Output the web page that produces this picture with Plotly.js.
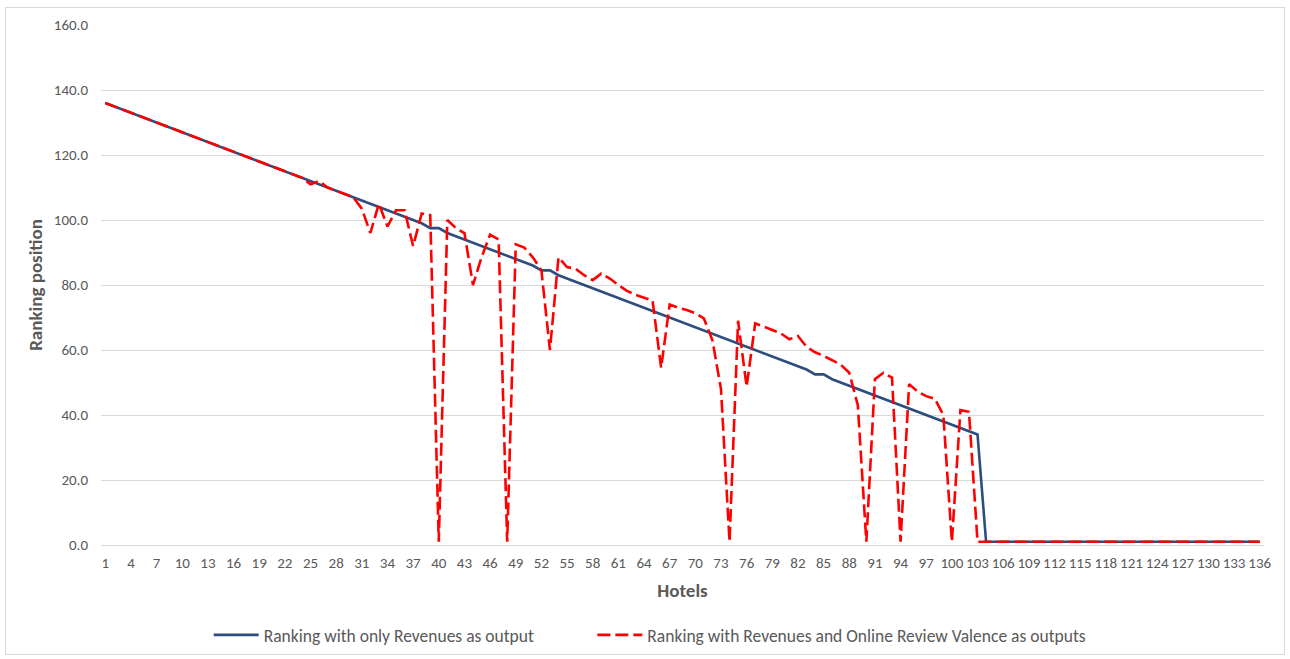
<!DOCTYPE html>
<html>
<head>
<meta charset="utf-8">
<script src="https://cdn.plot.ly/plotly-3.0.1.min.js"></script>
<style>
  html, body { margin: 0; padding: 0; background: #ffffff; }
  #frame { position: absolute; left: 5px; top: 7px; width: 1278px; height: 646px; border: 1px solid #d9d9d9; pointer-events: none; }
  #chart { position: absolute; left: 0; top: 0; width: 1290px; height: 659px; }
</style>
</head>
<body>
<div id="chart"></div>
<div id="frame"></div>
<script>
// Hotels (categories 1..136)
const hotels = [
  1,2,3,4,5,6,7,8,9,10,11,12,13,14,15,16,17,18,19,20,
  21,22,23,24,25,26,27,28,29,30,31,32,33,34,35,36,37,38,39,40,
  41,42,43,44,45,46,47,48,49,50,51,52,53,54,55,56,57,58,59,60,
  61,62,63,64,65,66,67,68,69,70,71,72,73,74,75,76,77,78,79,80,
  81,82,83,84,85,86,87,88,89,90,91,92,93,94,95,96,97,98,99,100,
  101,102,103,104,105,106,107,108,109,110,111,112,113,114,115,116,117,118,119,120,
  121,122,123,124,125,126,127,128,129,130,131,132,133,134,135,136
];

// Ranking with only Revenues as output
const rankRevenues = [
  136,135,134,133,132,131,130,129,128,127,
  126,125,124,123,122,121,120,119,118,117,
  116,115,114,113,112,111,110,109,108,107,
  106,105,104,103,102,101,100,99,97.5,97.5,
  96,95,94,93,92,91,90,89,88,87,
  86,84.5,84.5,83,82,81,80,79,78,77,
  76,75,74,73,72,71,70,69,68,67,
  66,65,64,63,62,61,60,59,58,57,
  56,55,54,52.5,52.5,51,50,49,48,47,
  46,45,44,43,42,41,40,39,38,37,
  36,35,34,1,1,1,1,1,1,1,
  1,1,1,1,1,1,1,1,1,1,
  1,1,1,1,1,1,1,1,1,1,
  1,1,1,1,1,1
];

// Ranking with Revenues and Online Review Valence as outputs
const rankRevenuesValence = [
  136,135,134,133,132,131,130,129,128,127,
  126,125,124,123,122,121,120,119,118,117,
  116,115,114,113,111,112,110,109,108,107,
  103.5,96,105,98,103,103,92,102,101.5,1,
  100,97.5,96,80,88.5,95.5,94,1,92.5,91.5,
  88.5,84.5,60,88.5,85.5,85,83,81.5,83.5,82,
  80,78.2,77,76.2,75.2,54.5,74,73,72.3,71.3,
  69.7,63,48,1,69,48.7,68.2,67.2,66.2,65.1,
  63.3,64.3,61,59.3,58.2,56.9,55.5,53,43,1,
  51,53,51.5,1,49.5,47.2,45.8,45,40,1,
  41.5,41,1,1,1,1,1,1,1,1,
  1,1,1,1,1,1,1,1,1,1,
  1,1,1,1,1,1,1,1,1,1,
  1,1,1,1,1,1
];

// Tick labels on the category axis (every third hotel)
const xTickVals = [1,4,7,10,13,16,19,22,25,28,31,34,37,40,43,46,49,52,55,58,61,64,67,70,73,76,79,82,85,88,91,94,97,100,103,106,109,112,115,118,121,124,127,130,133,136];
const xTickText = xTickVals.map(String);
const yTickVals = [0,20,40,60,80,100,120,140,160];
const yTickText = ["0.0","20.0","40.0","60.0","80.0","100.0","120.0","140.0","160.0"];

const FONT = "Carlito, Calibri, 'Liberation Sans Narrow', 'Liberation Sans', Arial, sans-serif";

const traces = [
  {
    x: hotels, y: rankRevenues, type: 'scatter', mode: 'lines',
    name: 'Ranking with only Revenues as output',
    line: { color: '#2C4D7E', width: 2.6 },
    legend: 'legend'
  },
  {
    x: hotels, y: rankRevenuesValence, type: 'scatter', mode: 'lines',
    name: 'Ranking with Revenues and Online Review Valence as outputs',
    line: { color: '#FF0000', width: 2.6, dash: '13px,5px' },
    legend: 'legend2'
  }
];

const legendCommon = {
  orientation: 'h', xanchor: 'left', y: -0.173, yanchor: 'middle',
  font: { family: FONT, size: 17.5, color: '#595959' },
  itemwidth: 45, bgcolor: 'rgba(0,0,0,0)', borderwidth: 0
};

const layout = {
  width: 1290, height: 659,
  paper_bgcolor: '#ffffff', plot_bgcolor: '#ffffff',
  margin: { l: 101, r: 26, t: 25, b: 114, autoexpand: false },
  font: { family: FONT, color: '#595959', size: 15 },
  showlegend: true,
  legend: Object.assign({}, legendCommon, { x: 0.0926 }),
  legend2: Object.assign({}, legendCommon, { x: 0.4225 }),
  xaxis: {
    range: [0.5, 136.5], automargin: false,
    tickmode: 'array', tickvals: xTickVals, ticktext: xTickText,
    showgrid: false, zeroline: false,
    showline: true, linecolor: '#d9d9d9', linewidth: 1,
    ticks: '', tickfont: { size: 15, color: '#595959' },
    ticklabelstandoff: 4,
    title: { text: '<b>Hotels</b>', font: { size: 19, color: '#595959' }, standoff: 12 }
  },
  yaxis: {
    range: [0, 160], automargin: false,
    tickmode: 'array', tickvals: yTickVals, ticktext: yTickText,
    showgrid: true, gridcolor: '#d9d9d9', gridwidth: 1,
    zeroline: false, showline: false,
    ticks: '', tickfont: { size: 15, color: '#595959' },
    ticklabelstandoff: 12,
    title: { text: '<b>Ranking position</b>', font: { size: 19, color: '#595959' }, standoff: 6 }
  }
};

Plotly.newPlot('chart', traces, layout, { displayModeBar: false, staticPlot: true });
</script>
</body>
</html>
